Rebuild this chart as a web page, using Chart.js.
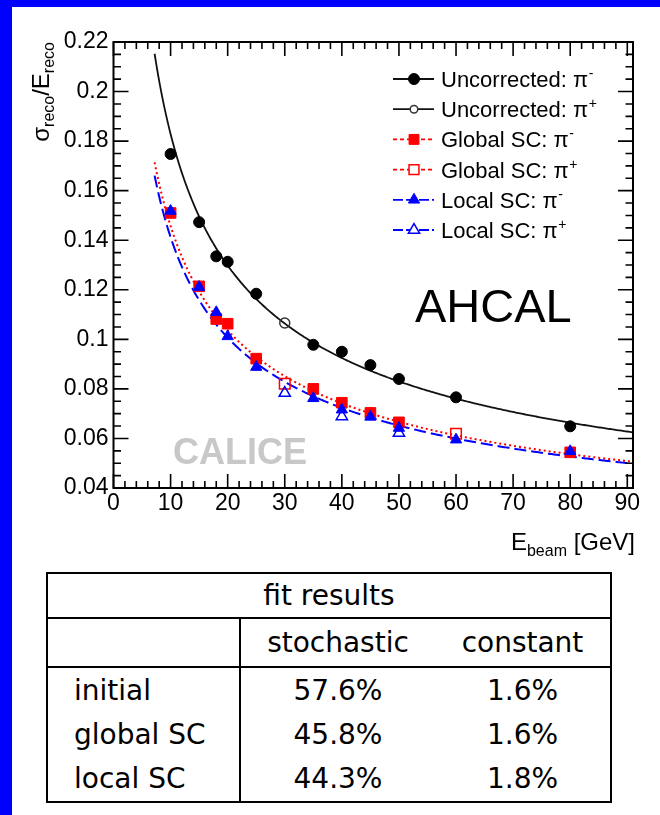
<!DOCTYPE html>
<html>
<head>
<meta charset="utf-8">
<script src="https://cdn.jsdelivr.net/npm/chart.js@4/dist/chart.umd.min.js"></script>
<style>
  html, body { margin: 0; padding: 0; }
  body { width: 660px; height: 815px; background: #0000ff; position: relative; overflow: hidden; }
  #sheet { position: absolute; left: 12px; top: 7px; width: 648px; height: 808px; background: #fff; }
  #plot { position: absolute; left: 0; top: 0; }
  #fit { position: absolute; left: 46px; top: 572px; border-collapse: collapse; border: 2px solid #000;
         font-family: "DejaVu Sans", sans-serif; font-size: 28px; color: #000; table-layout: fixed; }
  #fit td { padding: 0; vertical-align: middle; white-space: nowrap; }
</style>
</head>
<body>
<div id="sheet"></div>
<canvas id="plot" width="660" height="560"></canvas>
<table id="fit"></table>
<script>
// Resolution sigma_reco / E_reco versus beam energy (GeV)
const energiesUncMinus = [10, 15, 18, 20, 25, 35, 40, 45, 50, 60, 80];
const uncMinus         = [0.1748, 0.1473, 0.1335, 0.1313, 0.1184, 0.0978, 0.0950, 0.0896, 0.0840, 0.0766, 0.0649];
const energiesUncPlus  = [30];
const uncPlus          = [0.1066];
const energiesGlobMinus = [10, 15, 18, 20, 25, 35, 40, 45, 50, 80];
const globMinus         = [0.1510, 0.1214, 0.1082, 0.1063, 0.0922, 0.0800, 0.0744, 0.0703, 0.0665, 0.0544];
const energiesGlobPlus  = [30, 60];
const globPlus          = [0.0821, 0.0619];
const energiesLocMinus = [10, 15, 18, 20, 25, 35, 40, 45, 50, 60, 80];
const locMinus         = [0.1518, 0.1211, 0.1109, 0.1012, 0.0888, 0.0762, 0.0716, 0.0687, 0.0642, 0.0595, 0.0548];
const energiesLocPlus  = [30, 40, 50];
const locPlus          = [0.0783, 0.0689, 0.0622];

// Fit results: sigma/E = stochastic/sqrt(E) (+) constant, in percent
const fitNames      = ['initial', 'global SC', 'local SC'];
const fitStochastic = [57.6, 45.8, 44.3];
const fitConstant   = [1.6, 1.6, 1.8];
const fitRange      = [7.2, 91];

const legendLabels = ['Uncorrected:', 'Uncorrected:', 'Global SC:', 'Global SC:', 'Local SC:', 'Local SC:'];
const legendCharges = ['-', '+', '-', '+', '-', '+'];

const pts = (xs, ys) => xs.map((x, i) => ({ x, y: ys[i] }));

// fit curve evaluated from the tabulated parameters
function fitCurve(k) {
  const a = fitStochastic[k] / 100, c = fitConstant[k] / 100;
  const out = [];
  for (let e = fitRange[0]; e <= fitRange[1] + 1e-9; e += 0.25) {
    out.push({ x: e, y: Math.sqrt(a * a / e + c * c) });
  }
  return out;
}

const BLACK = '#000000', RED = '#ff0000', BLUE = '#0000ff';
const FONT = "'Liberation Sans', Arial, Helvetica, sans-serif";

const datasets = [
  { label: 'Local SC pi+', data: pts(energiesLocPlus, locPlus), pointStyle: 'triangle', pointRadius: 6.5,
    borderColor: BLUE, pointBackgroundColor: 'rgba(0,0,0,0)', pointBorderWidth: 1.5, showLine: false, lineDash: [10, 3] },
  { label: 'Local SC pi-', data: pts(energiesLocMinus, locMinus), pointStyle: 'triangle', pointRadius: 6.5,
    borderColor: BLUE, pointBackgroundColor: BLUE, pointBorderWidth: 1, showLine: false, lineDash: [10, 3] },
  { label: 'Global SC pi+', data: pts(energiesGlobPlus, globPlus), pointStyle: 'rect', pointRadius: 7.5,
    borderColor: RED, pointBackgroundColor: 'rgba(0,0,0,0)', pointBorderWidth: 1.5, showLine: false, lineDash: [4, 3] },
  { label: 'Global SC pi-', data: pts(energiesGlobMinus, globMinus), pointStyle: 'rect', pointRadius: 7.5,
    borderColor: RED, pointBackgroundColor: RED, pointBorderWidth: 1, showLine: false, lineDash: [4, 3] },
  { label: 'Uncorrected pi+', data: pts(energiesUncPlus, uncPlus), pointStyle: 'circle', pointRadius: 5,
    borderColor: '#333', pointBackgroundColor: 'rgba(0,0,0,0)', pointBorderWidth: 1.5, showLine: false, lineDash: [] },
  { label: 'Uncorrected pi-', data: pts(energiesUncMinus, uncMinus), pointStyle: 'circle', pointRadius: 5.5,
    borderColor: BLACK, pointBackgroundColor: BLACK, pointBorderWidth: 1, showLine: false, lineDash: [] },
  { label: 'fit local', data: fitCurve(2), showLine: true, pointRadius: 0, borderColor: BLUE, borderWidth: 2,
    borderDash: [12, 5], tension: 0 },
  { label: 'fit global', data: fitCurve(1), showLine: true, pointRadius: 0, borderColor: RED, borderWidth: 2,
    borderDash: [2, 3], tension: 0 },
  { label: 'fit initial', data: fitCurve(0), showLine: true, pointRadius: 0, borderColor: '#111', borderWidth: 1.8,
    tension: 0 }
];

// ROOT-like frame with inward ticks on all four sides
const framePlugin = {
  id: 'frameTicks',
  afterDatasetsDraw(chart) {
    const { ctx, chartArea: a, scales: { x, y } } = chart;
    ctx.save();
    ctx.strokeStyle = '#000';
    ctx.lineWidth = 1.6;
    ctx.beginPath();
    for (let k = 0; k * 2 <= x.max; k++) {
      const v = k * 2, px = x.getPixelForValue(v), L = (v % 10 === 0) ? 14 : 7;
      ctx.moveTo(px, a.bottom); ctx.lineTo(px, a.bottom - L);
      ctx.moveTo(px, a.top); ctx.lineTo(px, a.top + L);
    }
    for (let k = 0; k <= 36; k++) {
      const v = y.min + k * 0.005, py = y.getPixelForValue(v), L = (k % 4 === 0) ? 15 : 7.5;
      ctx.moveTo(a.left, py); ctx.lineTo(a.left + L, py);
      ctx.moveTo(a.right, py); ctx.lineTo(a.right - L, py);
    }
    ctx.stroke();
    ctx.lineWidth = 2;
    ctx.strokeRect(a.left, a.top, a.right - a.left, a.bottom - a.top);
    ctx.restore();
  }
};

// draws a run of text pieces, some of them lowered as subscripts
function runWidth(ctx, parts) {
  let w = 0;
  for (const p of parts) { ctx.font = p.font; w += ctx.measureText(p.t).width; }
  return w;
}
function drawRun(ctx, parts, x, y) {
  for (const p of parts) {
    ctx.font = p.font;
    ctx.fillText(p.t, x, y + (p.dy || 0));
    x += ctx.measureText(p.t).width;
  }
}

const textPlugin = {
  id: 'annotations',
  beforeDatasetsDraw(chart) {
    const { ctx } = chart;
    ctx.save();
    ctx.fillStyle = '#c8c8c8';
    ctx.font = 'bold 36px ' + FONT;
    ctx.textAlign = 'center';
    ctx.textBaseline = 'alphabetic';
    ctx.fillText('CALICE', 240, 464);
    ctx.restore();
  },
  afterDraw(chart) {
    const { ctx } = chart;
    ctx.save();
    ctx.fillStyle = '#000';
    ctx.textBaseline = 'alphabetic';
    ctx.textAlign = 'left';

    ctx.font = '47px ' + FONT;
    ctx.fillText('AHCAL', 415, 322);

    // y axis title, reading upwards, ending at the top of the frame
    const yParts = [
      { t: 'σ', font: '24px ' + FONT },
      { t: 'reco', font: '16px ' + FONT, dy: 5 },
      { t: '/E', font: '24px ' + FONT },
      { t: 'reco', font: '16px ' + FONT, dy: 5 }
    ];
    const yw = runWidth(ctx, yParts);
    ctx.save();
    ctx.translate(49, 42);
    ctx.rotate(-Math.PI / 2);
    drawRun(ctx, yParts, -yw, 0);
    ctx.restore();

    // x axis title, right aligned with the frame
    const xParts = [
      { t: 'E', font: '24px ' + FONT },
      { t: 'beam', font: '16px ' + FONT, dy: 6 },
      { t: ' [GeV]', font: '24px ' + FONT }
    ];
    const xw = runWidth(ctx, xParts);
    drawRun(ctx, xParts, 635 - xw, 550);

    // legend: line sample, marker, label with charge superscript
    const order = [5, 4, 3, 2, 1, 0];
    const lineOf = [8, 8, 7, 7, 6, 6];
    order.forEach((di, row) => {
      const ds = chart.data.datasets[di];
      const cy = 79 + row * 30.2;
      const lds = chart.data.datasets[lineOf[row]];
      ctx.save();
      ctx.strokeStyle = lds.borderColor;
      ctx.lineWidth = 1.8;
      ctx.setLineDash(ds.lineDash || []);
      ctx.beginPath(); ctx.moveTo(393, cy); ctx.lineTo(434, cy); ctx.stroke();
      ctx.restore();
      const r = row === 1 ? 3.8 : (ds.pointStyle === 'rect' ? 7 : ds.pointStyle === 'triangle' ? 6.5 : 5.5);
      ctx.save();
      ctx.fillStyle = ds.pointBackgroundColor;
      ctx.strokeStyle = ds.borderColor;
      ctx.lineWidth = ds.pointBorderWidth;
      if (ds.pointBackgroundColor === 'rgba(0,0,0,0)') {
        ctx.fillStyle = '#fff';
      }
      Chart.helpers.drawPoint(ctx, { pointStyle: ds.pointStyle, radius: r, borderWidth: ds.pointBorderWidth }, 414, cy);
      ctx.restore();
      ctx.font = '22px ' + FONT;
      ctx.fillStyle = '#000';
      const label = legendLabels[row] + ' π';
      ctx.fillText(label, 441, cy + 8);
      const lw = ctx.measureText(label).width;
      ctx.font = '14px ' + FONT;
      ctx.fillText(legendCharges[row] === '-' ? '-' : '+', 441 + lw + 0.5, cy - 1);
    });
    ctx.restore();
  }
};

new Chart(document.getElementById('plot'), {
  type: 'scatter',
  data: { datasets },
  options: {
    responsive: false,
    devicePixelRatio: 1,
    animation: false,
    events: [],
    layout: { padding: { left: 0, right: 27, top: 42, bottom: 0 } },
    plugins: { legend: { display: false }, tooltip: { enabled: false } },
    scales: {
      x: {
        type: 'linear', min: 0, max: 91,
        grid: { display: false, drawTicks: false },
        border: { display: false },
        ticks: { stepSize: 10, includeBounds: false, padding: 2, color: '#000', font: { family: FONT, size: 23 },
                 maxRotation: 0, autoSkip: false },
        afterFit(s) { s.height = 72; }
      },
      y: {
        type: 'linear', min: 0.04, max: 0.22,
        grid: { display: false, drawTicks: false },
        border: { display: false },
        ticks: { stepSize: 0.02, padding: 5, color: '#000', font: { family: FONT, size: 23 },
                 callback: v => String(parseFloat(v.toFixed(2))) },
        afterFit(s) { s.width = 113.5; }
      }
    }
  },
  plugins: [framePlugin, textPlugin]
});

// fit results table built from the fit arrays
(function buildTable() {
  const t = document.getElementById('fit');
  const colW = [193, 195, 176];
  let html = '<colgroup>' + colW.map(w => `<col style="width:${w}px">`).join('') + '</colgroup>';
  html += '<tr style="height:45px"><td colspan="3" style="text-align:center;border-bottom:2px solid #000">fit results</td></tr>';
  html += '<tr style="height:49px"><td style="border-right:2px solid #000;border-bottom:2px solid #000"></td>' +
          '<td style="text-align:center;border-bottom:2px solid #000">stochastic</td>' +
          '<td style="text-align:center;border-bottom:2px solid #000">constant</td></tr>';
  const rowH = [46, 43, 46];
  fitNames.forEach((n, i) => {
    html += `<tr style="height:${rowH[i]}px"><td style="padding-left:26px;border-right:2px solid #000">${n}</td>` +
            `<td style="text-align:center">${fitStochastic[i].toFixed(1)}%</td>` +
            `<td style="text-align:center">${fitConstant[i].toFixed(1)}%</td></tr>`;
  });
  t.innerHTML = html;
})();
</script>
</body>
</html>
